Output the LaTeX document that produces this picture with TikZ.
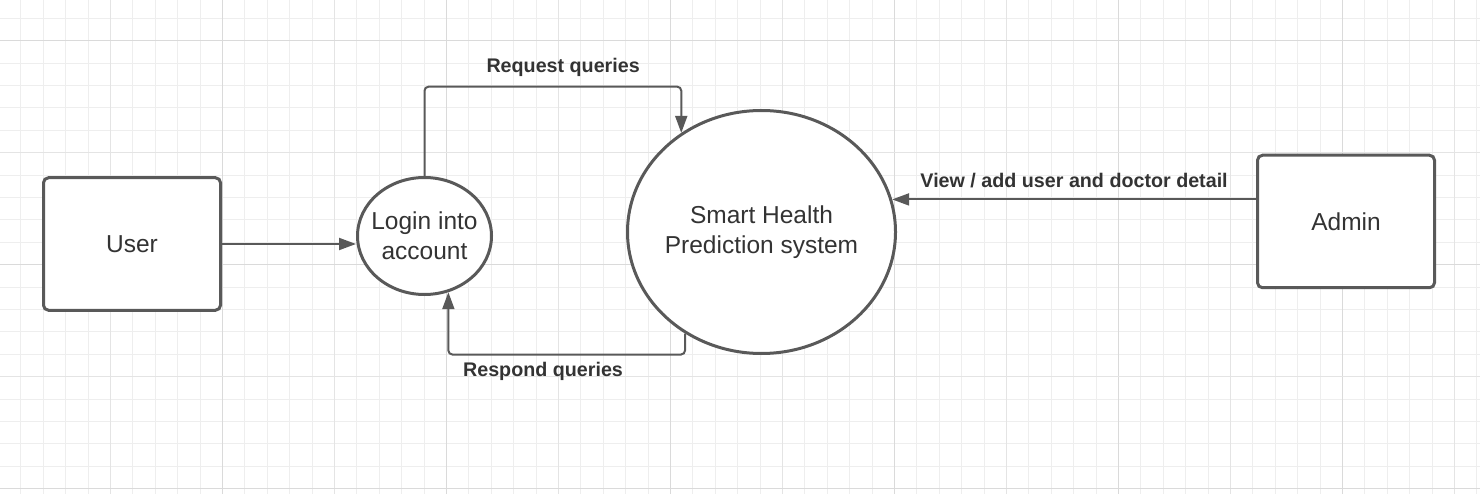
\documentclass[tikz,border=0pt]{standalone}
\usepackage{fontspec}
\setmainfont{Liberation Sans}
\usetikzlibrary{arrows.meta, positioning, shapes.geometric}
\definecolor{linegrey}{HTML}{595959}
\definecolor{textgrey}{HTML}{333333}
\definecolor{gridminor}{HTML}{EEEEEE}
\definecolor{gridmid}{HTML}{E4E4E4}
\definecolor{gridmajor}{HTML}{DADADA}

\begin{document}
\begin{tikzpicture}[
  x=1pt, y=-1pt,
  box/.style={rectangle, draw=linegrey, fill=white, line width=3pt, rounded corners=5pt, minimum width=177pt, minimum height=132.5pt, align=center, text=textgrey, font=\fontsize{24.5}{30}\selectfont},
  proc/.style={ellipse, draw=linegrey, fill=white, line width=3pt, inner sep=-8pt, align=center, text=textgrey, font=\fontsize{24.5}{30}\selectfont},
  arrow/.style={-{Triangle[length=17pt, width=12pt]}, line width=2pt, draw=linegrey, rounded corners=4pt},
  flowlabel/.style={inner sep=0pt, text=textgrey, font=\fontsize{19.7}{23}\selectfont\bfseries}
]
\useasboundingbox (0,0) rectangle (1480,494);

% Background grid
\foreach \k in {0,...,65} {
  \draw[gridminor, line width=1pt] (20.9+\k*22.4,0) -- (20.9+\k*22.4,494);
}
\foreach \k in {0,...,21} {
  \draw[gridminor, line width=1pt] (0,18.3+\k*22.4) -- (1480,18.3+\k*22.4);
}
\foreach \k in {4,14,...,64} {
  \draw[gridmid, line width=1.2pt] (20.9+\k*22.4,0) -- (20.9+\k*22.4,494);
}
\foreach \k in {9,19,...,59} {
  \draw[gridmajor, line width=1.4pt] (20.9+\k*22.4,0) -- (20.9+\k*22.4,494);
}
\foreach \k in {6,16} {
  \draw[gridmid, line width=1.2pt] (0,18.3+\k*22.4) -- (1480,18.3+\k*22.4);
}
\foreach \k in {1,11,21} {
  \draw[gridmajor, line width=1.4pt] (0,18.3+\k*22.4) -- (1480,18.3+\k*22.4);
}

% Entities and processes
\node[box] (user) at (132,244) {User};
\node[proc, minimum width=134pt, minimum height=117pt, right=134pt of user, yshift=8pt] (login) {Login into\\account};
\node[proc, minimum width=268pt, minimum height=243pt, right=133pt of login, yshift=4pt] (shp) {Smart Health\\Prediction system};
\node[box, right=359pt of shp, yshift=10.5pt] (admin) {Admin};

% Data flows
\draw[arrow] (user) -- (user -| login.west);
\draw[arrow] (login.north) -- ++(0,-89.3) -| (shp.129) node[flowlabel, pos=.27, above=9pt] {Request queries};
\draw[arrow] (shp.233) -- ++(0,21) -| (login.293) node[flowlabel, pos=.3, below=7pt] {Respond queries};
\draw[arrow] (shp.14 -| admin.west) -- (shp.14) node[flowlabel, midway, above=11pt] {View / add user and doctor detail};

\end{tikzpicture}
\end{document}
